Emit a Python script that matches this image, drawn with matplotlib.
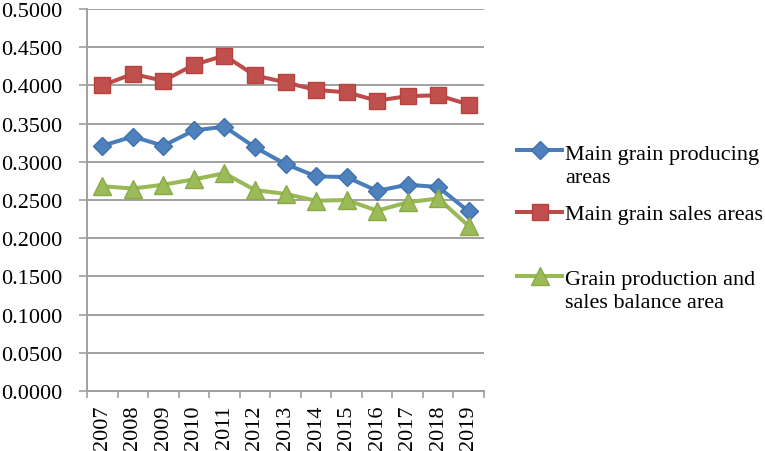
import matplotlib
matplotlib.use("Agg")
import matplotlib.pyplot as plt
from matplotlib.lines import Line2D
from matplotlib.ticker import FixedLocator, FormatStrFormatter

years = ["2007", "2008", "2009", "2010", "2011", "2012", "2013",
         "2014", "2015", "2016", "2017", "2018", "2019"]
producing = [0.321, 0.333, 0.321, 0.341, 0.346, 0.319, 0.297,
             0.281, 0.280, 0.262, 0.270, 0.267, 0.235]
sales = [0.400, 0.415, 0.406, 0.427, 0.439, 0.413, 0.404,
         0.394, 0.391, 0.380, 0.386, 0.387, 0.375]
balance = [0.268, 0.265, 0.270, 0.277, 0.285, 0.263, 0.258,
           0.249, 0.250, 0.236, 0.247, 0.252, 0.216]
series_names = ["Main grain producing\nareas",
                "Main grain sales areas",
                "Grain production and\nsales balance area"]
y_ticks = [0.0, 0.05, 0.10, 0.15, 0.20, 0.25, 0.30, 0.35, 0.40, 0.45, 0.50]

plt.rcParams['font.family'] = ['Liberation Serif', 'DejaVu Serif']

W, H = 765, 452
FS = 16
fig = plt.figure(figsize=(W / 100, H / 100), dpi=100)
ax = fig.add_axes([87 / W, 1 - 392 / H, (484 - 87) / W, (392 - 10) / H])

styles = [
    dict(color="#4A7EBB", marker="D", ms=9.5, mfc="#4F81BD", mec="#3F71AE"),
    dict(color="#BE4B48", marker="s", ms=11, mfc="#C0504D", mec="#B8403D"),
    dict(color="#98B954", marker="^", ms=13, mfc="#9BBB59", mec="#8AAA48"),
]
data = [producing, sales, balance]
x = list(range(len(years)))
for vals, st in zip(data, styles):
    ax.plot(x, vals, lw=2.9, marker=st["marker"], ms=st["ms"],
            color=st["color"], mfc=st["mfc"], mec=st["mec"], mew=1.0,
            zorder=3, clip_on=False)

grid_c = "#A0A0A0"
ax.set_xlim(-0.5, len(years) - 0.5)
ax.set_ylim(0, 0.5)
ax.set_yticks(y_ticks)
ax.yaxis.set_major_formatter(FormatStrFormatter("%.4f"))
ax.yaxis.grid(True, color=grid_c, lw=1.4)
ax.set_axisbelow(True)

ax.xaxis.set_major_locator(FixedLocator([i - 0.5 for i in range(len(years) + 1)]))
ax.xaxis.set_minor_locator(FixedLocator(x))
ax.set_xticklabels([], minor=False)
ax.set_xticklabels(years, minor=True, rotation=90)
ax.tick_params(axis="x", which="major", length=5, width=1.2, color=grid_c, direction="out")
ax.tick_params(axis="x", which="minor", length=0, pad=9.5, labelsize=FS)
ax.tick_params(axis="y", which="major", length=6, width=1.2, color=grid_c, pad=12, labelsize=FS)
for lab in ax.get_xticklabels(minor=True):
    lab.set_va("top")

for side in ["top", "right"]:
    ax.spines[side].set_visible(False)
for side in ["left", "bottom"]:
    ax.spines[side].set_color(grid_c)
    ax.spines[side].set_linewidth(1.4)

# legend (keys drawn in figure coordinates, text baselines of last lines)
marker_y = [151, 213, 277]
text_last_base = [183.3, 220, 308.3]
for st, name, my, tb in zip(styles, series_names, marker_y, text_last_base):
    fig.add_artist(Line2D([517 / W, 562 / W], [1 - my / H, 1 - my / H],
                          transform=fig.transFigure, color=st["color"], lw=2.9))
    fig.add_artist(Line2D([539.5 / W], [1 - my / H], transform=fig.transFigure,
                          marker=st["marker"], ms=st["ms"], mfc=st["mfc"],
                          mec=st["mec"], mew=1.0, lw=0))
    fig.text(565 / W, 1 - tb / H, name, fontsize=FS, va="baseline", ha="left",
             linespacing=1.3)

fig.savefig("out.png", dpi=100)
